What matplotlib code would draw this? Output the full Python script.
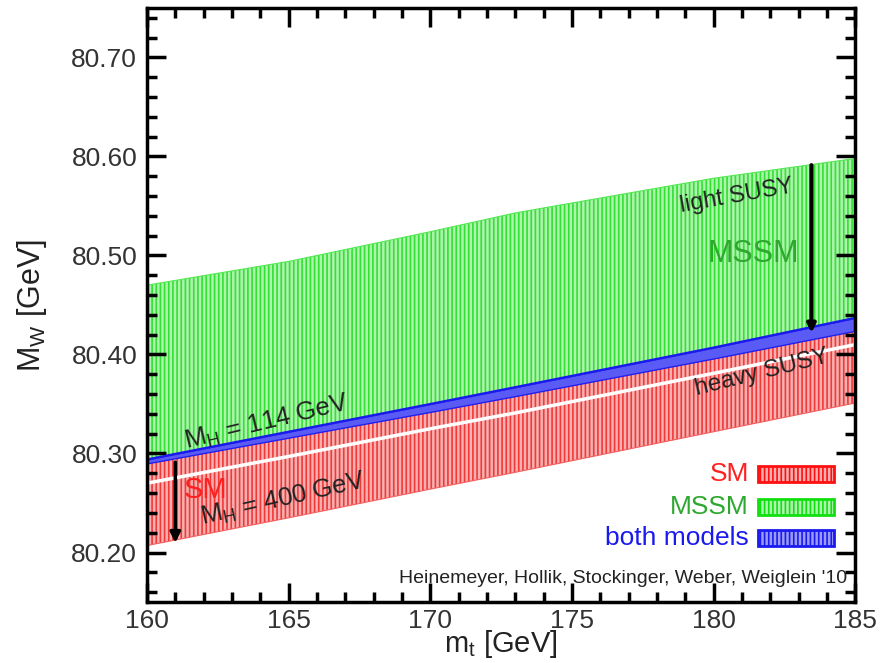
import matplotlib
matplotlib.use("Agg")
import matplotlib.pyplot as plt
import numpy as np

plt.rcParams['font.family'] = ['Liberation Sans', 'DejaVu Sans']
plt.rcParams['hatch.linewidth'] = 1.2

# Data
mt = [160, 165, 170, 173, 180, 185]
mssm_upper = [80.470, 80.494, 80.524, 80.543, 80.578, 80.598]
blue_upper = [80.294, 80.322, 80.350, 80.367, 80.407, 80.437]
blue_lower = [80.290, 80.316, 80.342, 80.358, 80.396, 80.424]
sm_lower = [80.207, 80.235, 80.264, 80.281, 80.322, 80.351]
white_line = [80.270, 80.297, 80.325, 80.341, 80.381, 80.410]

xticks = [160, 165, 170, 175, 180, 185]
yticks = [80.20, 80.30, 80.40, 80.50, 80.60, 80.70]

fig = plt.figure(figsize=(8.8, 6.63), dpi=100)
ax = fig.add_axes([0.167, 0.092, 0.805, 0.896])

# MSSM (green)
ax.fill_between(mt, blue_upper, mssm_upper, facecolor='#aef3ae', edgecolor='#33e033',
                hatch='||||', linewidth=0)
ax.plot(mt, mssm_upper, color='#55e855', lw=0.8)
# SM (red)
ax.fill_between(mt, sm_lower, blue_lower, facecolor='#f8b0b0', edgecolor='#f03a3a',
                hatch='||||', linewidth=0)
ax.plot(mt, sm_lower, color='#f06060', lw=0.8)
# white line in SM band
ax.plot(mt, white_line, color='white', lw=2.5)
# both models (blue)
ax.fill_between(mt, blue_lower, blue_upper, facecolor='#5a5af5', edgecolor='#2020ee',
                linewidth=1.0)
ax.plot(mt, blue_upper, color='#1a1aee', lw=1.6)

ax.set_xlim(160, 185)
ax.set_ylim(80.15, 80.75)
ax.set_xticks(xticks)
ax.set_xticklabels([str(v) for v in xticks])
ax.set_yticks(yticks)
ax.set_yticklabels([f"{v:.2f}" for v in yticks])
ax.set_xticks(np.arange(160, 185.01, 1), minor=True)
ax.set_yticks(np.arange(80.16, 80.75, 0.02), minor=True)
ax.tick_params(which='both', direction='in', top=True, right=True, width=2.5,
               labelsize=19, labelcolor='#333333')
ax.tick_params(axis='y', pad=7)
ax.tick_params(axis='x', pad=5)
ax.tick_params(which='major', length=14)
ax.tick_params(which='minor', length=7)
for s in ax.spines.values():
    s.set_linewidth(2.5)

ax.set_xlabel(r'm$_\mathregular{t}$ [GeV]', fontsize=21, color='#222222')
ax.xaxis.set_label_coords(0.5, -0.043)
ax.set_ylabel(r'M$_\mathregular{W}$ [GeV]', fontsize=22, color='#222222', labelpad=16)

# Arrows
ax.annotate('', xy=(161.0, 80.207), xytext=(161.0, 80.294),
            arrowprops=dict(arrowstyle='-|>', lw=2.5, color='black', mutation_scale=15))
ax.annotate('', xy=(183.45, 80.419), xytext=(183.45, 80.594),
            arrowprops=dict(arrowstyle='-|>', lw=3, color='black', mutation_scale=12))

# Labels in plot
ax.text(161.4, 80.305, r'M$_\mathregular{H}$ = 114 GeV', fontsize=18.5, color='#222222',
        rotation=13.5, rotation_mode='anchor', ha='left', va='baseline')
ax.text(161.95, 80.228, r'M$_\mathregular{H}$ = 400 GeV', fontsize=18.5, color='#222222',
        rotation=12.8, rotation_mode='anchor', ha='left', va='baseline')
ax.text(161.3, 80.255, 'SM', fontsize=21, color='#ff2020', ha='left', va='baseline')
ax.text(182.85, 80.564, 'light SUSY', fontsize=17, color='#222222', rotation=10,
        rotation_mode='anchor', ha='right', va='baseline')
ax.text(183.0, 80.493, 'MSSM', fontsize=22, color='#2ea82e', ha='right', va='baseline')
ax.text(184.1, 80.392, 'heavy SUSY', fontsize=17.5, color='#222222', rotation=14,
        rotation_mode='anchor', ha='right', va='baseline')

# Legend (drawn manually)
leg_labels = ['SM', 'MSSM', 'both models']
leg_text_colors = ['#ff2020', '#2ea82e', '#1a1aee']
leg_face = ['#f8b0b0', '#aef3ae', '#9a9af8']
leg_edge = ['#ff1010', '#10e010', '#1a1aee']
leg_y = [80.279, 80.246, 80.215]
for lab, tc, fc, ec, yy in zip(leg_labels, leg_text_colors, leg_face, leg_edge, leg_y):
    ax.text(181.25, yy, lab, fontsize=19, color=tc, ha='right', va='center')
    ax.add_patch(matplotlib.patches.Rectangle((181.58, yy - 0.008), 2.68, 0.016,
                 facecolor=fc, edgecolor=ec, hatch='||||', lw=2))

ax.text(184.7, 80.174, "Heinemeyer, Hollik, Stockinger, Weber, Weiglein '10",
        fontsize=14, color='#222222', ha='right', va='center')

fig.savefig('out.png', dpi=100)
